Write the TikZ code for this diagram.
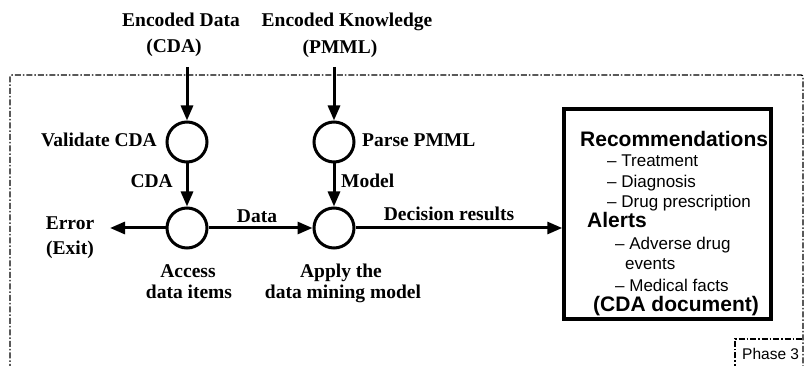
\documentclass[tikz,border=0pt]{standalone}
\usepackage{fontspec}
\setmainfont{Liberation Serif}
\newfontfamily\helv{Liberation Sans}
\usetikzlibrary{arrows.meta}
\begin{document}
\begin{tikzpicture}[x=1pt,y=-1pt,
  lbl/.style={font=\fontsize{19.5}{22}\selectfont\bfseries, inner sep=0pt, anchor=base},
  proc/.style={circle, draw, line width=3pt, minimum size=40pt, inner sep=0pt},
  flow/.style={line width=3pt, -{Triangle[length=15pt,width=12pt]}},
  boxtxt/.style={font=\helv\fontsize{17}{20}\selectfont, inner sep=0pt, anchor=base west},
  boxhead/.style={font=\helv\bfseries\fontsize{21}{24}\selectfont, inner sep=0pt, anchor=base west},
  phase/.style={line width=1.3pt, dash pattern=on 6pt off 2pt on 1.5pt off 2pt}]
\clip (0,0) rectangle (807,366);

% processing steps
\node[proc] (validate) at (187,142) {};
\node[proc] (access)   at (187,228) {};
\node[proc] (parse)    at (334,142) {};
\node[proc] (apply)    at (334,228) {};

% inputs
\node[lbl] (encData)  at (181,27) {Encoded Data};
\node[lbl] (encDataB) at (174,53) {(CDA)};
\node[lbl] (encKnow)  at (347,27) {Encoded Knowledge};
\node[lbl] (encKnowB) at (340,54) {(PMML)};

% step and flow labels
\node[lbl, anchor=base east] (valLbl)   at (157,147) {Validate CDA};
\node[lbl, anchor=base west] (parseLbl) at (362,147) {Parse PMML};
\node[lbl, anchor=base east] (cdaLbl)   at (173,188) {CDA};
\node[lbl, anchor=base west] (modelLbl) at (341,188) {Model};
\node[lbl] (dataLbl) at (257,223) {Data};
\node[lbl] (decLbl)  at (449,221) {Decision results};
\node[lbl] (errLbl)  at (70,230) {Error};
\node[lbl] (errLblB) at (70,255) {(Exit)};
\node[lbl] (accLbl)  at (188,278) {Access};
\node[lbl] (accLblB) at (189,299) {data items};
\node[lbl] (appLbl)  at (341,278) {Apply the};
\node[lbl] (appLblB) at (343,299) {data mining model};

% output document
\node[draw, line width=3.5pt, minimum width=207pt, minimum height=210pt, inner sep=0pt] (out) at (667.5,214) {};
\node[boxhead] (recHead) at (580,146.5) {Recommendations};
\node[boxtxt]  (recA)    at (607,167) {\textendash{} Treatment};
\node[boxtxt]  (recB)    at (607,187.5) {\textendash{} Diagnosis};
\node[boxtxt]  (recC)    at (607,208) {\textendash{} Drug prescription};
\node[boxhead] (alHead)  at (587,228) {Alerts};
\node[boxtxt]  (alA)     at (615,250) {\textendash{} Adverse drug};
\node[boxtxt]  (alAb)    at (625,270) {events};
\node[boxtxt]  (alB)     at (615,292) {\textendash{} Medical facts};
\node[boxhead] (cdaDoc)  at (593,312) {(CDA document)};

% connectors
\coordinate (inCDA)  at (187,67);
\coordinate (inPMML) at (334,67);
\coordinate (errTip) at (110,228);
\draw[flow] (inCDA) -- (validate);
\draw[flow] (validate) -- (access);
\draw[flow] (inPMML) -- (parse);
\draw[flow] (parse) -- (apply);
\draw[flow] (access) -- (errTip);
\draw[flow] (access) -- (apply);
\draw[flow] (apply) -- (apply -| out.west);

% phase boundary
\draw[phase, rounded corners=2pt] (10,370) -- (10,75) -- (803,75) -- (803,370);
\draw[phase] (735,370) -- (735,339) -- (803,339);
\node[font=\helv\fontsize{15.5}{18}\selectfont, inner sep=0pt, anchor=base west] (phaseLbl) at (742,360) {Phase 3};
\end{tikzpicture}
\end{document}
